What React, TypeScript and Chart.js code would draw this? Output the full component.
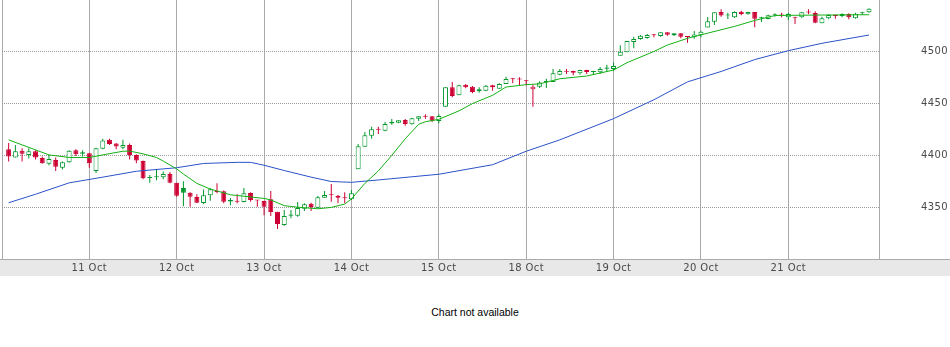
import React, { useEffect, useRef } from 'react';
import { Chart, registerables } from 'chart.js';

Chart.register(...registerables);

// ---- Data (30-minute candles, index 0..128) ----
const opens = [
  4406, 4398, 4404.5, 4400.5, 4404, 4397.5, 4392, 4395.5, 4388, 4393.5,
  4405, 4403, 4402, 4385, 4406.5, 4415, 4411.5, 4407.5, 4410, 4400.5,
  4394.5, 4378.2, 4379, 4379, 4382, 4373.5, 4368.5, 4364, 4359.8, 4354,
  4361.5, 4364.7, 4365.3, 4357, 4355.2, 4355, 4363.7, 4356.5, 4356, 4357.6,
  4345.7, 4332.8, 4343, 4341.8, 4348.6, 4353.4, 4349.5, 4359.2, 4361.5, 4361.1,
  4358.6, 4357.6, 4386.6, 4408.4, 4419, 4424.8, 4423.8, 4432.5, 4431.6, 4434.2,
  4430, 4435.4, 4437.4, 4437.7, 4433.2, 4447, 4465.7, 4458, 4468.2, 4466.3,
  4463.8, 4462.5, 4467.7, 4464.4, 4468.9, 4473.5, 4473.2, 4471.5, 4463.8, 4466.3,
  4471.8, 4470.9, 4477.9, 4480.8, 4481.5, 4479.2, 4482.4, 4480.6, 4480.2, 4484.8,
  4483.4, 4496.2, 4499.5, 4509.5, 4512.4, 4513.3, 4515.9, 4515.3, 4518.8, 4515.9,
  4517.9, 4514.3, 4514, 4516, 4523.5, 4529.1, 4538.4, 4535.1, 4533.3, 4538.7,
  4536.2, 4538.4, 4532.3, 4531.7, 4535.3, 4535.1, 4533.3, 4532.3, 4533.3, 4538,
  4537.5, 4527.5, 4532.3, 4535.8, 4534.6, 4536.5, 4532.3, 4537.2, 4538.1,
];
const highs = [
  4412, 4410, 4407, 4407, 4405, 4399, 4400.5, 4398, 4394, 4405,
  4406, 4405, 4402.5, 4407.5, 4416, 4416, 4412, 4415, 4411.5, 4401,
  4395, 4381, 4386, 4384.5, 4384, 4373.5, 4375, 4364.5, 4362.5, 4367,
  4368.5, 4373, 4366, 4359, 4362.5, 4368.5, 4364.4, 4357, 4356.3, 4365.6,
  4345.7, 4347.3, 4347.3, 4355, 4353.8, 4354.3, 4360.8, 4365.6, 4372.4, 4361.8,
  4364.4, 4366.6, 4411, 4422.6, 4427.7, 4427.7, 4432.2, 4435.1, 4433.9, 4435.1,
  4436.4, 4437.7, 4439.7, 4437.7, 4439.7, 4465.7, 4470.9, 4468.2, 4468.9, 4467,
  4465.7, 4468, 4468.2, 4469.6, 4476, 4474.7, 4475.4, 4472.8, 4468.2, 4471.5,
  4474, 4483.4, 4483.4, 4483.4, 4481.7, 4482.6, 4482.6, 4481.8, 4485.3, 4487.5,
  4489.5, 4506.3, 4510.4, 4514.6, 4516.2, 4517.2, 4517.2, 4518.8, 4518.8, 4517.9,
  4517.9, 4514.6, 4520.1, 4520.4, 4533.6, 4538.1, 4541, 4537.7, 4539.1, 4539.7,
  4538.7, 4538.4, 4533.9, 4535.8, 4537.2, 4537.7, 4537.7, 4533.9, 4538.4, 4541,
  4539.1, 4533.9, 4536.2, 4535.8, 4537.2, 4537.2, 4537.7, 4538.7, 4542,
];
const lows = [
  4394, 4398, 4394, 4397, 4396, 4392, 4390.5, 4385, 4386.5, 4393,
  4399.5, 4399, 4388, 4383, 4406, 4410, 4406, 4406, 4396, 4392.5,
  4377, 4373.5, 4376, 4377, 4373, 4360, 4351, 4350.5, 4354, 4353,
  4356.3, 4363.4, 4353.8, 4352, 4353.8, 4354.7, 4355.3, 4350.5, 4342.2, 4341.5,
  4329, 4332.1, 4339.3, 4340.8, 4346.3, 4346.3, 4349.2, 4359.2, 4355.3, 4353.8,
  4353.8, 4356.9, 4386.6, 4408.4, 4416.1, 4420.7, 4423.3, 4429.6, 4431, 4428.7,
  4429.6, 4433.2, 4435.4, 4432.2, 4431, 4447, 4456.1, 4458, 4464.8, 4459.9,
  4460.5, 4461.9, 4462.5, 4464.4, 4468.9, 4469.6, 4467.7, 4467.7, 4447, 4465,
  4465, 4470.9, 4477.3, 4478.6, 4477.3, 4478, 4478.6, 4477.9, 4478.6, 4480.5,
  4481.8, 4496.2, 4499.5, 4503.4, 4511.7, 4512.6, 4514, 4514.6, 4515.6, 4515.3,
  4513, 4508.8, 4512.6, 4514, 4523.5, 4525.9, 4533.9, 4531.7, 4532.6, 4535.2,
  4535.8, 4523.6, 4528.8, 4531.4, 4533.9, 4533.3, 4530.7, 4526.8, 4532.9, 4536.6,
  4527.5, 4527.5, 4531.4, 4532, 4533.3, 4531.4, 4532, 4535.5, 4537.7,
];
const closes = [
  4399, 4404, 4401.5, 4404, 4398, 4392.5, 4396.5, 4389, 4393.5, 4404.5,
  4401, 4401.5, 4392.5, 4407, 4414.5, 4411, 4408.5, 4410, 4400.5, 4395,
  4378, 4378.2, 4379, 4382, 4373.7, 4361, 4364, 4360, 4354.3, 4361.5,
  4367.3, 4364.7, 4355.3, 4355.6, 4355.2, 4363.4, 4357, 4356.5, 4350.5, 4345.4,
  4333.8, 4341.5, 4341.8, 4349.2, 4352.8, 4350.2, 4359.6, 4361.8, 4361.5, 4359.2,
  4358.6, 4363.4, 4408.8, 4419.4, 4425.2, 4424.8, 4430.3, 4430.8, 4433.9, 4430.3,
  4435.8, 4437.7, 4437.4, 4433.5, 4438, 4465.7, 4457.3, 4467.7, 4465.7, 4461.2,
  4461.9, 4467.3, 4465.7, 4468.9, 4473.7, 4473.5, 4473.2, 4471.5, 4466.3, 4470.4,
  4470.6, 4479.3, 4481.5, 4480.8, 4479.8, 4482.4, 4480.5, 4480.6, 4483.4, 4483.6,
  4486.3, 4500.1, 4510.4, 4512.4, 4515.5, 4516.2, 4515.9, 4518.8, 4516.5, 4517.9,
  4514.6, 4514.3, 4516.7, 4519.4, 4529.5, 4538.1, 4535, 4535.1, 4538.4, 4536.5,
  4538.4, 4532, 4532.3, 4535.2, 4535.3, 4535.1, 4536.5, 4532.3, 4538.2, 4538,
  4528.1, 4532.3, 4535.5, 4534.6, 4536.5, 4533.3, 4536.8, 4537.2, 4541.6,
];
const priorClose = 4407;

const dayLabels = ['11 Oct', '12 Oct', '13 Oct', '14 Oct', '15 Oct', '18 Oct', '19 Oct', '20 Oct', '21 Oct'];
const dayStartIndex = [12, 25, 38, 51, 64, 77, 90, 103, 116];
const priceTicks = [4350, 4400, 4450, 4500];

const maShortIdx = [0, 6, 9, 12, 14, 17, 18, 20, 22, 23, 25, 26, 28, 30, 33, 38, 39, 41, 43, 46, 48, 50, 51, 53, 55, 57, 59, 61, 62, 64, 67, 69, 72, 74, 77, 79, 82, 86, 90, 92, 96, 98, 101, 104, 108, 111, 114, 116, 121, 128];
const maShortVal = [4415, 4400.5, 4398, 4398, 4400.5, 4404, 4404.2, 4401.5, 4398, 4394.5, 4387, 4382, 4373, 4367.5, 4362, 4358.5, 4357, 4351.5, 4350, 4348.5, 4349.8, 4353, 4358, 4373, 4385, 4400, 4416, 4430, 4432.5, 4434.8, 4443, 4450, 4458, 4466, 4468.3, 4469, 4474, 4476.6, 4482.4, 4489.5, 4500.3, 4506.5, 4513, 4518, 4524.5, 4530.3, 4535, 4535.2, 4535.5, 4535.8];
const maLongIdx = [0, 4, 9, 14, 19, 25, 29, 34, 36, 38, 41, 45, 48, 51, 55, 64, 72, 77, 82, 90, 96, 101, 106, 111, 116, 121, 128];
const maLongVal = [4354.3, 4362.5, 4373.5, 4379, 4384.7, 4388.1, 4392.2, 4393.3, 4393.3, 4390.5, 4385.4, 4379, 4374.8, 4374, 4376.3, 4381.8, 4391, 4404, 4415, 4435.5, 4453.7, 4471, 4481, 4492.5, 4501.1, 4508.2, 4516.2];

// ---- Styling ----
const UP = '#00962a';
const DOWN = '#cc0033';
const MA_SHORT = '#14b014';
const MA_LONG = '#2a52c8';
const GRID = '#aaaaaa';
const LABEL = '#4a4a4a';
const AXIS_FONT = { family: 'DejaVu Sans', size: 10 };

const bandPlugin = {
  id: 'axisBand',
  beforeDraw(chart: any) {
    const { ctx, chartArea, width, height } = chart;
    ctx.save();
    ctx.fillStyle = '#e8e8e8';
    ctx.fillRect(0, chartArea.bottom, width, height - chartArea.bottom);
    ctx.fillStyle = GRID;
    ctx.fillRect(0, chartArea.bottom, width, 1);
    ctx.restore();
    // slightly spaced axis lettering, as in the original
    if ('letterSpacing' in ctx) (ctx as any).letterSpacing = '0.4px';
  },
};

export default function App() {
  const ref = useRef<HTMLCanvasElement>(null);

  useEffect(() => {
    const canvas = ref.current;
    if (!canvas) return;

    const colors = closes.map((c, i) => (c >= (i === 0 ? priorClose : closes[i - 1]) ? UP : DOWN));
    const bodyFill = closes.map((c, i) => (c > opens[i] ? '#ffffff' : colors[i]));
    const bodies = closes.map((c, i) => ({ x: i, y: [opens[i], c] }));
    const wicks = closes.map((_, i) => ({ x: i, y: [lows[i], highs[i]] }));
    const shortLine = maShortIdx.map((x, k) => ({ x, y: maShortVal[k] }));
    const longLine = maLongIdx.map((x, k) => ({ x, y: maLongVal[k] }));

    const chart = new Chart(canvas, {
      type: 'bar',
      data: {
        datasets: [
          {
            type: 'line',
            label: 'MA short',
            data: shortLine,
            borderColor: MA_SHORT,
            borderWidth: 1,
            pointRadius: 0,
            tension: 0,
            fill: false,
            order: 0,
          } as any,
          {
            type: 'line',
            label: 'MA long',
            data: longLine,
            borderColor: MA_LONG,
            borderWidth: 1,
            pointRadius: 0,
            tension: 0,
            fill: false,
            order: 0,
          } as any,
          {
            type: 'bar',
            label: 'body',
            data: bodies,
            backgroundColor: bodyFill,
            borderColor: colors,
            borderWidth: 1,
            borderSkipped: false,
            barThickness: 5,
            minBarLength: 1,
            grouped: false,
            inflateAmount: 0,
            order: 1,
          } as any,
          {
            type: 'bar',
            label: 'wick',
            data: wicks,
            backgroundColor: colors,
            borderWidth: 0,
            barThickness: 1,
            grouped: false,
            inflateAmount: 0,
            order: 2,
          } as any,
        ],
      },
      options: {
        responsive: false,
        maintainAspectRatio: false,
        animation: false,
        devicePixelRatio: 1,
        events: [],
        layout: { padding: { left: 2, top: 0, right: 0, bottom: 0 } },
        plugins: { legend: { display: false }, tooltip: { enabled: false } },
        scales: {
          x: {
            type: 'linear',
            min: -0.989,
            max: 129.49,
            offset: false,
            afterBuildTicks: (s: any) => {
              s.ticks = [s.min, ...dayStartIndex].map((v) => ({ value: v }));
            },
            afterFit: (s: any) => {
              s.height = 17;
              s.paddingLeft = 0;
              s.paddingRight = 0;
            },
            ticks: {
              autoSkip: false,
              maxRotation: 0,
              minRotation: 0,
              padding: 3,
              color: LABEL,
              font: AXIS_FONT,
              callback: (v: any) => {
                const k = dayStartIndex.indexOf(Number(v));
                return k >= 0 ? dayLabels[k] : '';
              },
            },
            grid: { color: GRID, lineWidth: 1, drawTicks: false, offset: false },
            border: { display: true, color: GRID },
          },
          y: {
            type: 'linear',
            position: 'right',
            min: 4300,
            max: 4550,
            afterBuildTicks: (s: any) => {
              s.ticks = priceTicks.map((v) => ({ value: v }));
            },
            afterFit: (s: any) => {
              s.width = 71;
              s.paddingTop = 0;
              s.paddingBottom = 0;
            },
            ticks: {
              padding: 42,
              crossAlign: 'near',
              color: LABEL,
              font: AXIS_FONT,
              callback: (v: any) => String(v),
            },
            grid: { color: '#999999', lineWidth: 1, drawTicks: false, offset: false },
            border: { display: true, color: GRID, dash: [1, 1] },
          },
        },
      } as any,
      plugins: [bandPlugin],
    });

    return () => chart.destroy();
  }, []);

  return (
    <div style={{ position: 'fixed', left: 0, top: 0, width: 950, height: 347, background: '#ffffff' }}>
      <canvas ref={ref} width={950} height={276} style={{ display: 'block', width: 950, height: 276 }} />
      <div
        style={{
          position: 'absolute',
          left: 0,
          top: 306,
          width: 950,
          textAlign: 'center',
          fontFamily: '"Liberation Sans", Arial, sans-serif',
          fontSize: '10.5px',
          lineHeight: '12px',
          color: '#000000',
        }}
      >
        Chart not available
      </div>
    </div>
  );
}
